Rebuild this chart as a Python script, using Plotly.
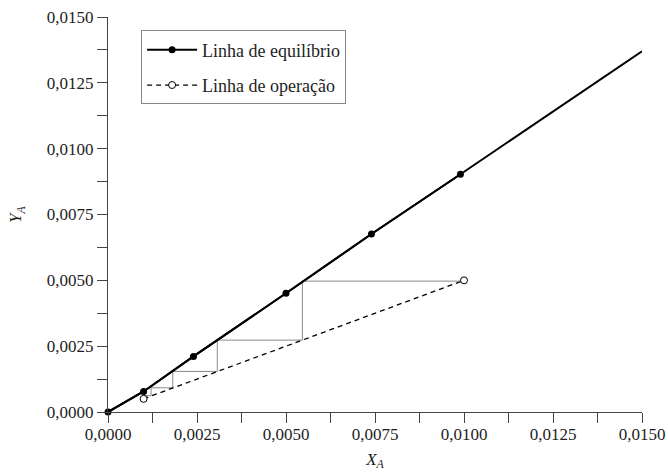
import plotly.graph_objects as go

# Equilibrium curve (solid, filled dots) -- last point only extends the line
x_eq = [0.0, 0.0010, 0.0024, 0.0050, 0.0074, 0.0099, 0.0150]
y_eq = [0.0, 0.00078, 0.00211, 0.00451, 0.00676, 0.00903, 0.0137]

# Operating line (dashed, open circles at both ends)
x_op = [0.0010, 0.0100]
y_op = [0.0005, 0.0050]

# Stage-stepping between operating and equilibrium lines
x_st = [0.0100, 0.00546, 0.00546, 0.00307, 0.00307, 0.00182, 0.00182,
        0.00121, 0.00121, 0.00097, 0.00097]
y_st = [0.00497, 0.00497, 0.00273, 0.00273, 0.00154, 0.00154, 0.00092,
        0.00092, 0.00062, 0.00062, 0.00051]

x_ticks = [0.0, 0.0025, 0.0050, 0.0075, 0.0100, 0.0125, 0.0150]
y_ticks = [0.0, 0.0025, 0.0050, 0.0075, 0.0100, 0.0125, 0.0150]

FONT = "Liberation Serif"
TEXT_COLOR = "#1e1e1e"
AXIS_COLOR = "#444444"

fig = go.Figure()

fig.add_trace(go.Scatter(
    x=x_st, y=y_st, mode="lines",
    line=dict(color="#8a8a8a", width=1),
    showlegend=False, hoverinfo="skip",
))

fig.add_trace(go.Scatter(
    x=x_eq, y=y_eq, mode="lines",
    line=dict(color="black", width=2),
    showlegend=False, hoverinfo="skip",
))

fig.add_trace(go.Scatter(
    x=x_eq[:-1], y=y_eq[:-1], mode="lines+markers",
    name="Linha de equilíbrio", legendgroup="eq",
    line=dict(color="black", width=2),
    marker=dict(color="black", size=7, symbol="circle"),
    cliponaxis=False,
))

fig.add_trace(go.Scatter(
    x=x_op, y=y_op, mode="lines+markers",
    name="Linha de operação", legendgroup="op",
    line=dict(color="black", width=1.3, dash="5px,4px"),
    marker=dict(color="white", size=7, symbol="circle",
                line=dict(color="black", width=1)),
    cliponaxis=False,
))

axis_common = dict(
    range=[0, 0.015],
    automargin=False,
    showline=True, linecolor=AXIS_COLOR, linewidth=1.2,
    ticks="outside", ticklen=10, tickwidth=1.2, tickcolor=AXIS_COLOR,
    tickformat=".4f",
    showgrid=False, zeroline=False,
    tickfont=dict(family=FONT, size=17, color=TEXT_COLOR),
    minor=dict(ticks="outside", ticklen=10, tickwidth=1.2,
               tickcolor=AXIS_COLOR, dtick=0.00125, showgrid=False),
)

fig.update_xaxes(
    **axis_common,
    tickvals=x_ticks,
    ticklabelstandoff=-4,
    title=dict(text="<i>X</i><sub><i>A</i></sub>",
               font=dict(family=FONT, size=17, color=TEXT_COLOR),
               standoff=10),
)
fig.update_yaxes(
    **axis_common,
    tickvals=y_ticks,
    title=dict(text="<i>Y</i><sub><i>A</i></sub>",
               font=dict(family=FONT, size=17, color=TEXT_COLOR),
               standoff=20),
)

fig.update_layout(
    width=668, height=473,
    margin=dict(l=108, r=26, t=17, b=61),
    paper_bgcolor="white", plot_bgcolor="white",
    separators=",.",
    font=dict(family=FONT, size=17, color=TEXT_COLOR),
    legend=dict(
        x=0.062, y=0.966, xanchor="left", yanchor="top",
        bgcolor="white", bordercolor="#888888", borderwidth=1,
        font=dict(family=FONT, size=18, color=TEXT_COLOR),
        itemwidth=50, traceorder="grouped", tracegroupgap=9,
    ),
)

fig.write_html("out.html")
